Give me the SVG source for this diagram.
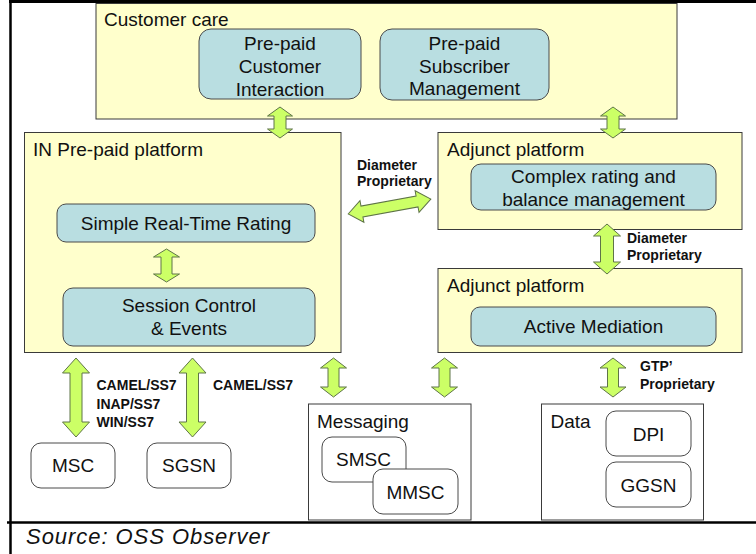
<svg xmlns="http://www.w3.org/2000/svg" width="756" height="554" viewBox="0 0 756 554">
  <style>
    text { font-family: "Liberation Sans", Arial, sans-serif; fill: #111; }
    .t { font-size: 19px; }
    .c { font-size: 19px; text-anchor: middle; }
    .lbl { font-size: 14px; font-weight: bold; }
    .zone { fill: #FFFFCC; stroke: #3a3a3a; stroke-width: 1; }
    .func { fill: #B9DEE1; stroke: #4a4a4a; stroke-width: 1; }
    .box { fill: #FFFFFF; stroke: #3a3a3a; stroke-width: 1; }
    .ne { fill: #FFFFFF; stroke: #4a4a4a; stroke-width: 1; }
    .arrow { fill: #CCFF66; stroke: #5f7448; stroke-width: 1; stroke-linejoin: miter; }
    .frame { stroke: #000; fill: none; }
  </style>

  <rect x="0" y="0" width="756" height="554" fill="#FFFFFF"/>

  <!-- outer frame -->
  <g id="frame">
    <line class="frame" x1="9" y1="1.5" x2="756" y2="1.5" stroke-width="3"/>
    <line class="frame" x1="10.5" y1="0" x2="10.5" y2="554" stroke-width="2.5"/>
    <line class="frame" x1="7" y1="522.5" x2="756" y2="522.5" stroke-width="2.5"/>
  </g>

  <!-- customer care -->
  <g id="customer-care">
    <rect class="zone" x="96" y="3.5" width="581" height="115.5"/>
    <text class="t" x="104" y="26">Customer care</text>
  </g>
  <g id="customer-interaction">
    <rect class="func" x="199" y="29" width="162" height="70" rx="12"/>
    <text class="c" x="280" y="49.5">Pre-paid</text>
    <text class="c" x="280" y="72.5">Customer</text>
    <text class="c" x="280" y="95.5">Interaction</text>
  </g>
  <g id="subscriber-management">
    <rect class="func" x="380" y="29" width="169" height="71" rx="12"/>
    <text class="c" x="464.5" y="49.5">Pre-paid</text>
    <text class="c" x="464.5" y="72.5">Subscriber</text>
    <text class="c" x="464.5" y="95">Management</text>
  </g>

  <!-- IN pre-paid platform -->
  <g id="in-platform">
    <rect class="zone" x="24.5" y="132.5" width="316.5" height="220"/>
    <text class="t" x="33" y="156">IN Pre-paid platform</text>
  </g>
  <g id="simple-rating">
    <rect class="func" x="57" y="204" width="258" height="38" rx="9"/>
    <text class="c" x="186" y="230">Simple Real-Time Rating</text>
  </g>
  <g id="session-control">
    <rect class="func" x="63" y="288" width="252" height="58" rx="10"/>
    <text class="c" x="189" y="311.5">Session Control</text>
    <text class="c" x="189" y="335">&amp; Events</text>
  </g>

  <!-- adjunct platforms -->
  <g id="adjunct-rating">
    <rect class="zone" x="438" y="132.5" width="304" height="97"/>
    <text class="t" x="447" y="156">Adjunct platform</text>
  </g>
  <g id="complex-rating">
    <rect class="func" x="471" y="164" width="245" height="46" rx="10"/>
    <text class="c" x="593.5" y="182.5">Complex rating and</text>
    <text class="c" x="593.5" y="206">balance management</text>
  </g>
  <g id="adjunct-mediation">
    <rect class="zone" x="438" y="268.5" width="304" height="84"/>
    <text class="t" x="447" y="291.5">Adjunct platform</text>
  </g>
  <g id="active-mediation">
    <rect class="func" x="471" y="307" width="245" height="39" rx="9"/>
    <text class="c" x="593.5" y="333">Active Mediation</text>
  </g>

  <!-- network elements -->
  <g id="msc">
    <rect class="ne" x="31" y="443" width="84" height="45" rx="10"/>
    <text class="c" x="73" y="472">MSC</text>
  </g>
  <g id="sgsn">
    <rect class="ne" x="147" y="443" width="84" height="45" rx="10"/>
    <text class="c" x="189" y="472">SGSN</text>
  </g>
  <g id="messaging">
    <rect class="box" x="308.5" y="404" width="162.5" height="116"/>
    <text class="t" x="317" y="428">Messaging</text>
  </g>
  <g id="smsc">
    <rect class="ne" x="322" y="437" width="84" height="45" rx="10"/>
    <text class="c" x="363.5" y="466">SMSC</text>
  </g>
  <g id="mmsc">
    <rect class="ne" x="373" y="469" width="85" height="45" rx="10"/>
    <text class="c" x="415.5" y="499">MMSC</text>
  </g>
  <g id="data">
    <rect class="box" x="541.5" y="404" width="162" height="116"/>
    <text class="t" x="550.5" y="428">Data</text>
  </g>
  <g id="dpi">
    <rect class="ne" x="606" y="411" width="85" height="45" rx="10"/>
    <text class="c" x="648.5" y="440.5">DPI</text>
  </g>
  <g id="ggsn">
    <rect class="ne" x="606" y="462" width="85" height="45" rx="10"/>
    <text class="c" x="648.5" y="491.5">GGSN</text>
  </g>

  <!-- interfaces: double-headed block arrows -->
  <g id="connectors">
    <polygon class="arrow" points="280,107 292.5,116 286,116 286,129 292.5,129 280,138 267.5,129 274,129 274,116 267.5,116"/>
    <polygon class="arrow" points="613,107 625.5,116 619,116 619,129 625.5,129 613,138 600.5,129 607,129 607,116 600.5,116"/>
    <polygon class="arrow" points="166.5,249 179.5,257 172,257 172,274 179.5,274 166.5,282 153.5,274 161,274 161,257 153.5,257"/>
    <polygon class="arrow" transform="translate(389.5,206.5) rotate(-10.24)" points="-42,0 -28,-11 -28,-5.5 28,-5.5 28,-11 42,0 28,11 28,5.5 -28,5.5 -28,11"/>
    <polygon class="arrow" points="607,224 620.5,236 613.5,236 613.5,262 620.5,262 607,274 593.5,262 600.5,262 600.5,236 593.5,236"/>
    <polygon class="arrow" points="76,358 89.5,373 82,373 82,422 89.5,422 76,437 62.5,422 70,422 70,373 62.5,373"/>
    <polygon class="arrow" points="192.5,358 206,373 198.5,373 198.5,422 206,422 192.5,437 179,422 186.5,422 186.5,373 179,373"/>
    <polygon class="arrow" points="333.5,358 346.5,368 339,368 339,387 346.5,387 333.5,397 320.5,387 328,387 328,368 320.5,368"/>
    <polygon class="arrow" points="444.5,358 457.5,368 450,368 450,387 457.5,387 444.5,397 431.5,387 439,387 439,368 431.5,368"/>
    <polygon class="arrow" points="613,358 626,368 618.5,368 618.5,387 626,387 613,397 600,387 607.5,387 607.5,368 600,368"/>

    <!-- interface labels -->
    <text class="lbl" x="357" y="170">Diameter</text>
    <text class="lbl" x="357" y="186">Proprietary</text>
    <text class="lbl" x="627" y="243">Diameter</text>
    <text class="lbl" x="627" y="260">Proprietary</text>
    <text class="lbl" x="96.5" y="390">CAMEL/SS7</text>
    <text class="lbl" x="96.5" y="408.5">INAP/SS7</text>
    <text class="lbl" x="96.5" y="427">WIN/SS7</text>
    <text class="lbl" x="213" y="390">CAMEL/SS7</text>
    <text class="lbl" x="640" y="371">GTP’</text>
    <text class="lbl" x="640" y="389">Proprietary</text>
  </g>

  <!-- footer -->
  <text x="26" y="544" font-size="22" font-style="italic" textLength="243" lengthAdjust="spacing">Source: OSS Observer</text>
</svg>
